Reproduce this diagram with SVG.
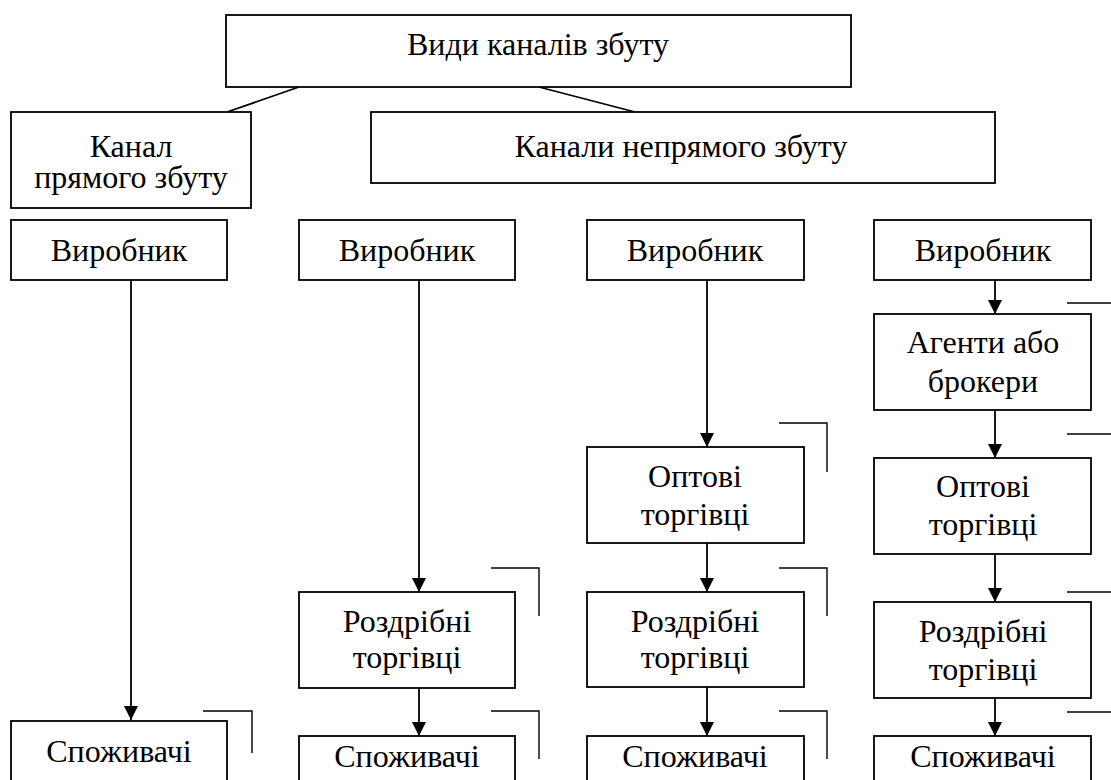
<svg xmlns="http://www.w3.org/2000/svg" width="1111" height="780" viewBox="0 0 1111 780">
<defs>
<marker id="ah" markerWidth="14" markerHeight="14" refX="14" refY="7" orient="auto" markerUnits="userSpaceOnUse">
<path d="M0,0 L14,7 L0,14 Z" fill="#000"/>
</marker>
<style>
.box{fill:#fff;stroke:#000;stroke-width:1.8}
.t{font-family:'Liberation Serif','DejaVu Serif',serif;font-size:32px;fill:#000;text-anchor:middle}
.ln{stroke:#000;stroke-width:1.8;fill:none}
.arr{stroke:#000;stroke-width:1.8;fill:none;marker-end:url(#ah)}
.br{stroke:#000;stroke-width:1.4;fill:none}
</style>
</defs>
<rect width="1111" height="780" fill="#fff"/>
<g id="connectors">
<line class="ln" x1="299" y1="87" x2="227" y2="112"/>
<line class="ln" x1="539" y1="87" x2="635" y2="112"/>
<line class="arr" x1="131" y1="280" x2="131" y2="720"/>
<line class="arr" x1="419" y1="280" x2="419" y2="592"/>
<line class="arr" x1="419" y1="688" x2="419" y2="736"/>
<line class="arr" x1="707" y1="280" x2="707" y2="447"/>
<line class="arr" x1="707" y1="543" x2="707" y2="592"/>
<line class="arr" x1="707" y1="687" x2="707" y2="736"/>
<line class="arr" x1="995" y1="280" x2="995" y2="314"/>
<line class="arr" x1="995" y1="410" x2="995" y2="458"/>
<line class="arr" x1="995" y1="554" x2="995" y2="602"/>
<line class="arr" x1="995" y1="698" x2="995" y2="736"/>
</g>
<g id="brackets">
<path class="br" d="M203,711 H252 V753"/>
<path class="br" d="M491,568 H539 V616"/>
<path class="br" d="M491,711 H539 V759"/>
<path class="br" d="M779,423 H827 V472"/>
<path class="br" d="M779,568 H827 V616"/>
<path class="br" d="M779,711 H827 V759"/>
<path class="br" d="M1067,303 H1111"/>
<path class="br" d="M1067,434 H1111"/>
<path class="br" d="M1067,592 H1111"/>
<path class="br" d="M1067,712 H1111"/>
</g>
<g id="n-root"><rect class="box" x="226" y="15" width="625" height="72"/><text class="t" x="538" y="55">Види каналів збуту</text></g>
<g id="n-direct"><rect class="box" x="11" y="112" width="240" height="96"/><text class="t" x="131" y="157">Канал</text><text class="t" x="131" y="188">прямого збуту</text></g>
<g id="n-indirect"><rect class="box" x="371" y="112" width="624" height="71"/><text class="t" x="681" y="157">Канали непрямого збуту</text></g>
<g id="n-v1"><rect class="box" x="11" y="220" width="216" height="60"/><text class="t" x="119" y="261">Виробник</text></g>
<g id="n-v2"><rect class="box" x="299" y="220" width="216" height="60"/><text class="t" x="407" y="261">Виробник</text></g>
<g id="n-v3"><rect class="box" x="587" y="220" width="217" height="60"/><text class="t" x="695" y="261">Виробник</text></g>
<g id="n-v4"><rect class="box" x="874" y="220" width="217" height="60"/><text class="t" x="983" y="261">Виробник</text></g>
<g id="n-agents"><rect class="box" x="874" y="314" width="217" height="96"/><text class="t" x="983" y="353">Агенти або</text><text class="t" x="983" y="392">брокери</text></g>
<g id="n-opt3"><rect class="box" x="587" y="447" width="217" height="96"/><text class="t" x="695" y="487">Оптові</text><text class="t" x="695" y="525">торгівці</text></g>
<g id="n-opt4"><rect class="box" x="874" y="458" width="217" height="96"/><text class="t" x="983" y="497">Оптові</text><text class="t" x="983" y="535">торгівці</text></g>
<g id="n-r2"><rect class="box" x="299" y="592" width="216" height="96"/><text class="t" x="407" y="632">Роздрібні</text><text class="t" x="407" y="668">торгівці</text></g>
<g id="n-r3"><rect class="box" x="587" y="592" width="217" height="95"/><text class="t" x="695" y="632">Роздрібні</text><text class="t" x="695" y="668">торгівці</text></g>
<g id="n-r4"><rect class="box" x="874" y="602" width="217" height="96"/><text class="t" x="983" y="642">Роздрібні</text><text class="t" x="983" y="680">торгівці</text></g>
<g id="n-c1"><rect class="box" x="11" y="721" width="216" height="80"/><text class="t" x="119" y="762">Споживачі</text></g>
<g id="n-c2"><rect class="box" x="299" y="736" width="216" height="80"/><text class="t" x="407" y="767">Споживачі</text></g>
<g id="n-c3"><rect class="box" x="587" y="736" width="217" height="80"/><text class="t" x="695" y="767">Споживачі</text></g>
<g id="n-c4"><rect class="box" x="874" y="736" width="217" height="80"/><text class="t" x="983" y="767">Споживачі</text></g>
</svg>
